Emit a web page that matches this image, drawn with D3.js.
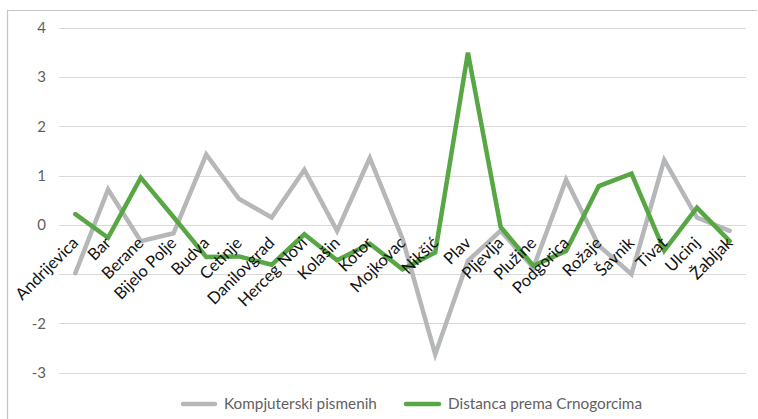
<!DOCTYPE html>
<html>
<head>
<meta charset="utf-8">
<script src="https://cdn.jsdelivr.net/npm/d3@7/dist/d3.min.js"></script>
<style>
  html, body { margin: 0; padding: 0; background: #fff; }
  svg { display: block; }
  text { font-family: Lato, "Open Sans", sans-serif; }
</style>
</head>
<body>
<svg id="chart" width="758" height="419"></svg>
<script>
const categories = ["Andrijevica", "Bar", "Berane", "Bijelo Polje", "Budva", "Cetinje", "Danilovgrad",
  "Herceg Novi", "Kolašin", "Kotor", "Mojkovac", "Nikšić", "Plav", "Pljevlja", "Plužine",
  "Podgorica", "Rožaje", "Šavnik", "Tivat", "Ulcinj", "Žabljak"];
const kompjuterski = [-0.98, 0.72, -0.33, -0.17, 1.43, 0.53, 0.15, 1.12, -0.12, 1.36, -0.28,
  -2.63, -0.73, -0.12, -0.87, 0.92, -0.42, -1.0, 1.32, 0.15, -0.12];
const distanca = [0.22, -0.26, 0.96, 0.16, -0.65, -0.64, -0.81, -0.19, -0.72, -0.38, -0.9,
  -0.56, 3.5, -0.04, -0.83, -0.53, 0.79, 1.04, -0.52, 0.35, -0.33];
const yTicks = [4, 3, 2, 1, 0, -1, -2, -3];
const yTickLabels = ["4", "3", "2", "1", "0", "", "-2", "-3"];
const seriesNames = ["Kompjuterski pismenih", "Distanca prema Crnogorcima"];
const seriesColors = ["#b5b7b9", "#58a644"];

const svg = d3.select("#chart");

// outer frame
svg.append("path")
  .attr("d", "M7.5,419 V10.5 H757")
  .attr("fill", "none").attr("stroke", "#c4c4c4").attr("stroke-width", 1.2);

const x = d3.scaleBand().domain(categories).range([59, 746]);
const y = d3.scaleLinear().domain([-3, 4]).range([372.6, 28]);

// gridlines
svg.append("g").selectAll("line").data(yTicks).join("line")
  .attr("x1", 59).attr("x2", 746)
  .attr("y1", d => Math.round(y(d)) + 0.5).attr("y2", d => Math.round(y(d)) + 0.5)
  .attr("stroke", "#d9d9d9").attr("stroke-width", 1.2);

// y tick labels
svg.append("g").selectAll("text").data(yTicks).join("text")
  .attr("x", 46).attr("y", d => y(d)).attr("dy", "0.35em")
  .attr("text-anchor", "end")
  .attr("font-size", 15).attr("fill", "#5f5f5f")
  .text((d, i) => yTickLabels[i]);

const line = d3.line()
  .x((d, i) => x(categories[i]) + x.bandwidth() / 2)
  .y(d => y(d));

const seriesData = [kompjuterski, distanca];
seriesData.forEach((vals, k) => {
  svg.append("path").datum(vals)
    .attr("d", line)
    .attr("fill", "none")
    .attr("stroke", seriesColors[k])
    .attr("stroke-width", 4.5)
    .attr("stroke-linejoin", "miter")
    .attr("stroke-linecap", "round");
});

// category labels
svg.append("g").selectAll("text").data(categories).join("text")
  .attr("transform", d => `translate(${x(d) + x.bandwidth() / 2 + 4},${244}) rotate(-45)`)
  .attr("text-anchor", "end")
  .attr("font-size", 16.5).attr("fill", "#111")
  .text(d => d);

// legend
const legendItems = [
  { x1: 183, x2: 215, tx: 224 },
  { x1: 406, x2: 439, tx: 448 }
];
legendItems.forEach((it, k) => {
  svg.append("line")
    .attr("x1", it.x1).attr("x2", it.x2).attr("y1", 404).attr("y2", 404)
    .attr("stroke", seriesColors[k]).attr("stroke-width", 4.5).attr("stroke-linecap", "round");
  svg.append("text")
    .attr("x", it.tx).attr("y", 404).attr("dy", "0.35em")
    .attr("font-size", 15.3).attr("fill", "#5f5f5f")
    .text(seriesNames[k]);
});
</script>
</body>
</html>
